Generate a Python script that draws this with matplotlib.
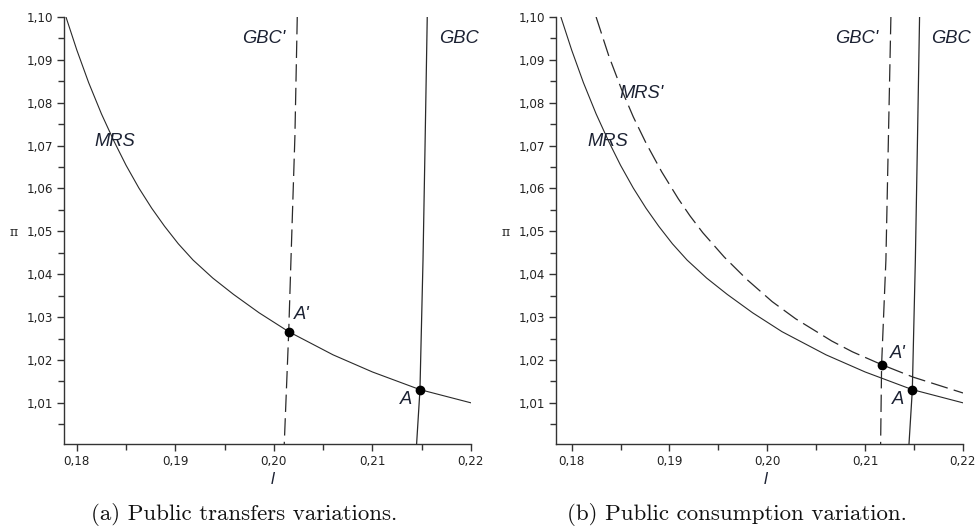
import matplotlib
matplotlib.use("Agg")
import matplotlib.pyplot as plt
from matplotlib.ticker import MultipleLocator, FuncFormatter

# ---------------- data ----------------
mrs_l = [0.1789, 0.1800, 0.1812, 0.1825, 0.1838, 0.1850, 0.1863, 0.1876,
         0.1889, 0.1903, 0.1918, 0.1938, 0.1959, 0.1985, 0.2015, 0.2060,
         0.2100, 0.2148, 0.2200]
mrs_pi = [1.1000, 1.0923, 1.0847, 1.0774, 1.0709, 1.0654, 1.0601, 1.0554,
          1.0512, 1.0471, 1.0433, 1.0391, 1.0353, 1.0310, 1.0266, 1.0212,
          1.0172, 1.0131, 1.0100]

mrs2_l = [0.1825, 0.1838, 0.1851, 0.1863, 0.1876, 0.1892, 0.1909, 0.1921,
          0.1934, 0.1956, 0.1979, 0.2005, 0.2029, 0.2066, 0.2087, 0.2117,
          0.2149, 0.2200]
mrs2_pi = [1.1000, 1.0909, 1.0831, 1.0767, 1.0706, 1.0639, 1.0576, 1.0536,
           1.0497, 1.0440, 1.0388, 1.0336, 1.0296, 1.0244, 1.0219, 1.0189,
           1.0160, 1.0123]

gbc_l = [0.21556, 0.21533, 0.21513, 0.21482, 0.21448]
gbc_pi = [1.1000, 1.0691, 1.0433, 1.0130, 1.0004]

gbcp_a_l = [0.20237, 0.20213, 0.20173, 0.20150, 0.20105]
gbcp_a_pi = [1.1000, 1.0721, 1.0433, 1.0264, 1.0004]

gbcp_b_l = [0.21263, 0.21212, 0.21168, 0.21158]
gbcp_b_pi = [1.1000, 1.0433, 1.0189, 1.0004]

pts_a_l = [0.2015, 0.2148]
pts_a_pi = [1.0265, 1.0131]
pts_b_l = [0.2117, 0.2148]
pts_b_pi = [1.0189, 1.0131]

x_ticks = [0.18, 0.19, 0.20, 0.21, 0.22]
y_ticks = [1.01, 1.02, 1.03, 1.04, 1.05, 1.06, 1.07, 1.08, 1.09, 1.10]
captions = ["(a) Public transfers variations.", "(b) Public consumption variation."]

# ---------------- figure ----------------
W, H = 978, 529
fig = plt.figure(figsize=(W / 100, H / 100), dpi=100)
plt.rcParams['lines.scale_dashes'] = False

def px_axes(x0, x1, ytop, ybot):
    return fig.add_axes([x0 / W, 1 - ybot / H, (x1 - x0) / W, (ybot - ytop) / H])

ax1 = px_axes(64, 471, 17, 444)
ax2 = px_axes(556, 963, 17, 444)

line_col = "#2a2a2a"
txt_col = "#1c2233"
dash = (0, (12.5, 4.5))
lab_font = dict(family="Liberation Sans", style="italic", fontsize=13.2, color=txt_col)

def comma(v, _):
    return ("%.2f" % v).replace(".", ",")

for ax, xl in ((ax1, 0.1787), (ax2, 0.1784)):
    ax.set_xlim(xl, 0.22)
    ax.set_ylim(1.0004, 1.10)
    for s in ("top", "right"):
        ax.spines[s].set_visible(False)
    for s in ("left", "bottom"):
        ax.spines[s].set_linewidth(1.0)
        ax.spines[s].set_color("#333333")
    ax.set_xticks(x_ticks)
    ax.set_yticks(y_ticks)
    ax.xaxis.set_minor_locator(MultipleLocator(0.005))
    ax.yaxis.set_minor_locator(MultipleLocator(0.005))
    ax.xaxis.set_major_formatter(FuncFormatter(comma))
    ax.yaxis.set_major_formatter(FuncFormatter(comma))
    ax.tick_params(which="both", direction="out", color="#333333", width=1.0)
    ax.tick_params(which="major", length=5, pad=3, labelsize=8.6, labelcolor="#222222")
    ax.tick_params(which="minor", length=4)
    for lab in ax.get_xticklabels() + ax.get_yticklabels():
        lab.set_family("DejaVu Sans")
    ax.patch.set_visible(False)

# panel (a)
ax1.plot(mrs_l, mrs_pi, color=line_col, lw=0.8)
ax1.plot(gbc_l, gbc_pi, color=line_col, lw=0.9)
ax1.plot(gbcp_a_l, gbcp_a_pi, color=line_col, lw=0.9, linestyle=dash)
ax1.plot(pts_a_l, pts_a_pi, "o", color="black", ms=6, zorder=5)
ax1.text(0.1839, 1.0709, "MRS", ha="center", va="center", **lab_font)
ax1.text(0.1990, 1.0949, "GBC'", ha="center", va="center", **lab_font)
ax1.text(0.2188, 1.0949, "GBC", ha="center", va="center", **lab_font)
ax1.text(0.2028, 1.0305, "A'", ha="center", va="center", **lab_font)
ax1.text(0.21345, 1.0107, "A", ha="center", va="center", **lab_font)

# panel (b)
ax2.plot(mrs_l, mrs_pi, color=line_col, lw=0.8)
ax2.plot(mrs2_l, mrs2_pi, color=line_col, lw=0.9, linestyle=dash)
ax2.plot(gbc_l, gbc_pi, color=line_col, lw=0.9)
ax2.plot(gbcp_b_l, gbcp_b_pi, color=line_col, lw=0.9, linestyle=dash)
ax2.plot(pts_b_l, pts_b_pi, "o", color="black", ms=6, zorder=5)
ax2.text(0.1871, 1.0821, "MRS'", ha="center", va="center", **lab_font)
ax2.text(0.18373, 1.0709, "MRS", ha="center", va="center", **lab_font)
ax2.text(0.2091, 1.0949, "GBC'", ha="center", va="center", **lab_font)
ax2.text(0.21882, 1.0949, "GBC", ha="center", va="center", **lab_font)
ax2.text(0.2133, 1.0216, "A'", ha="center", va="center", **lab_font)
ax2.text(0.2134, 1.0107, "A", ha="center", va="center", **lab_font)

# axis labels
for xc, yx in ((273, 14), (766, 506)):
    fig.text(xc / W, 1 - 480 / H, "l", ha="center", va="center",
             family="Liberation Sans", style="italic", fontsize=12, color=txt_col)
    fig.text(yx / W, 1 - 232 / H, "π", ha="center", va="center",
             family="DejaVu Serif", fontsize=9, color="#222222")

# captions
fig.text(244.5 / W, 1 - 515 / H, captions[0], ha="center", va="center",
         family="cmr10", fontsize=16.5, color="#111111")
fig.text(737 / W, 1 - 515 / H, captions[1], ha="center", va="center",
         family="cmr10", fontsize=16.5, color="#111111")

fig.savefig("out.png", dpi=100, facecolor="white")
